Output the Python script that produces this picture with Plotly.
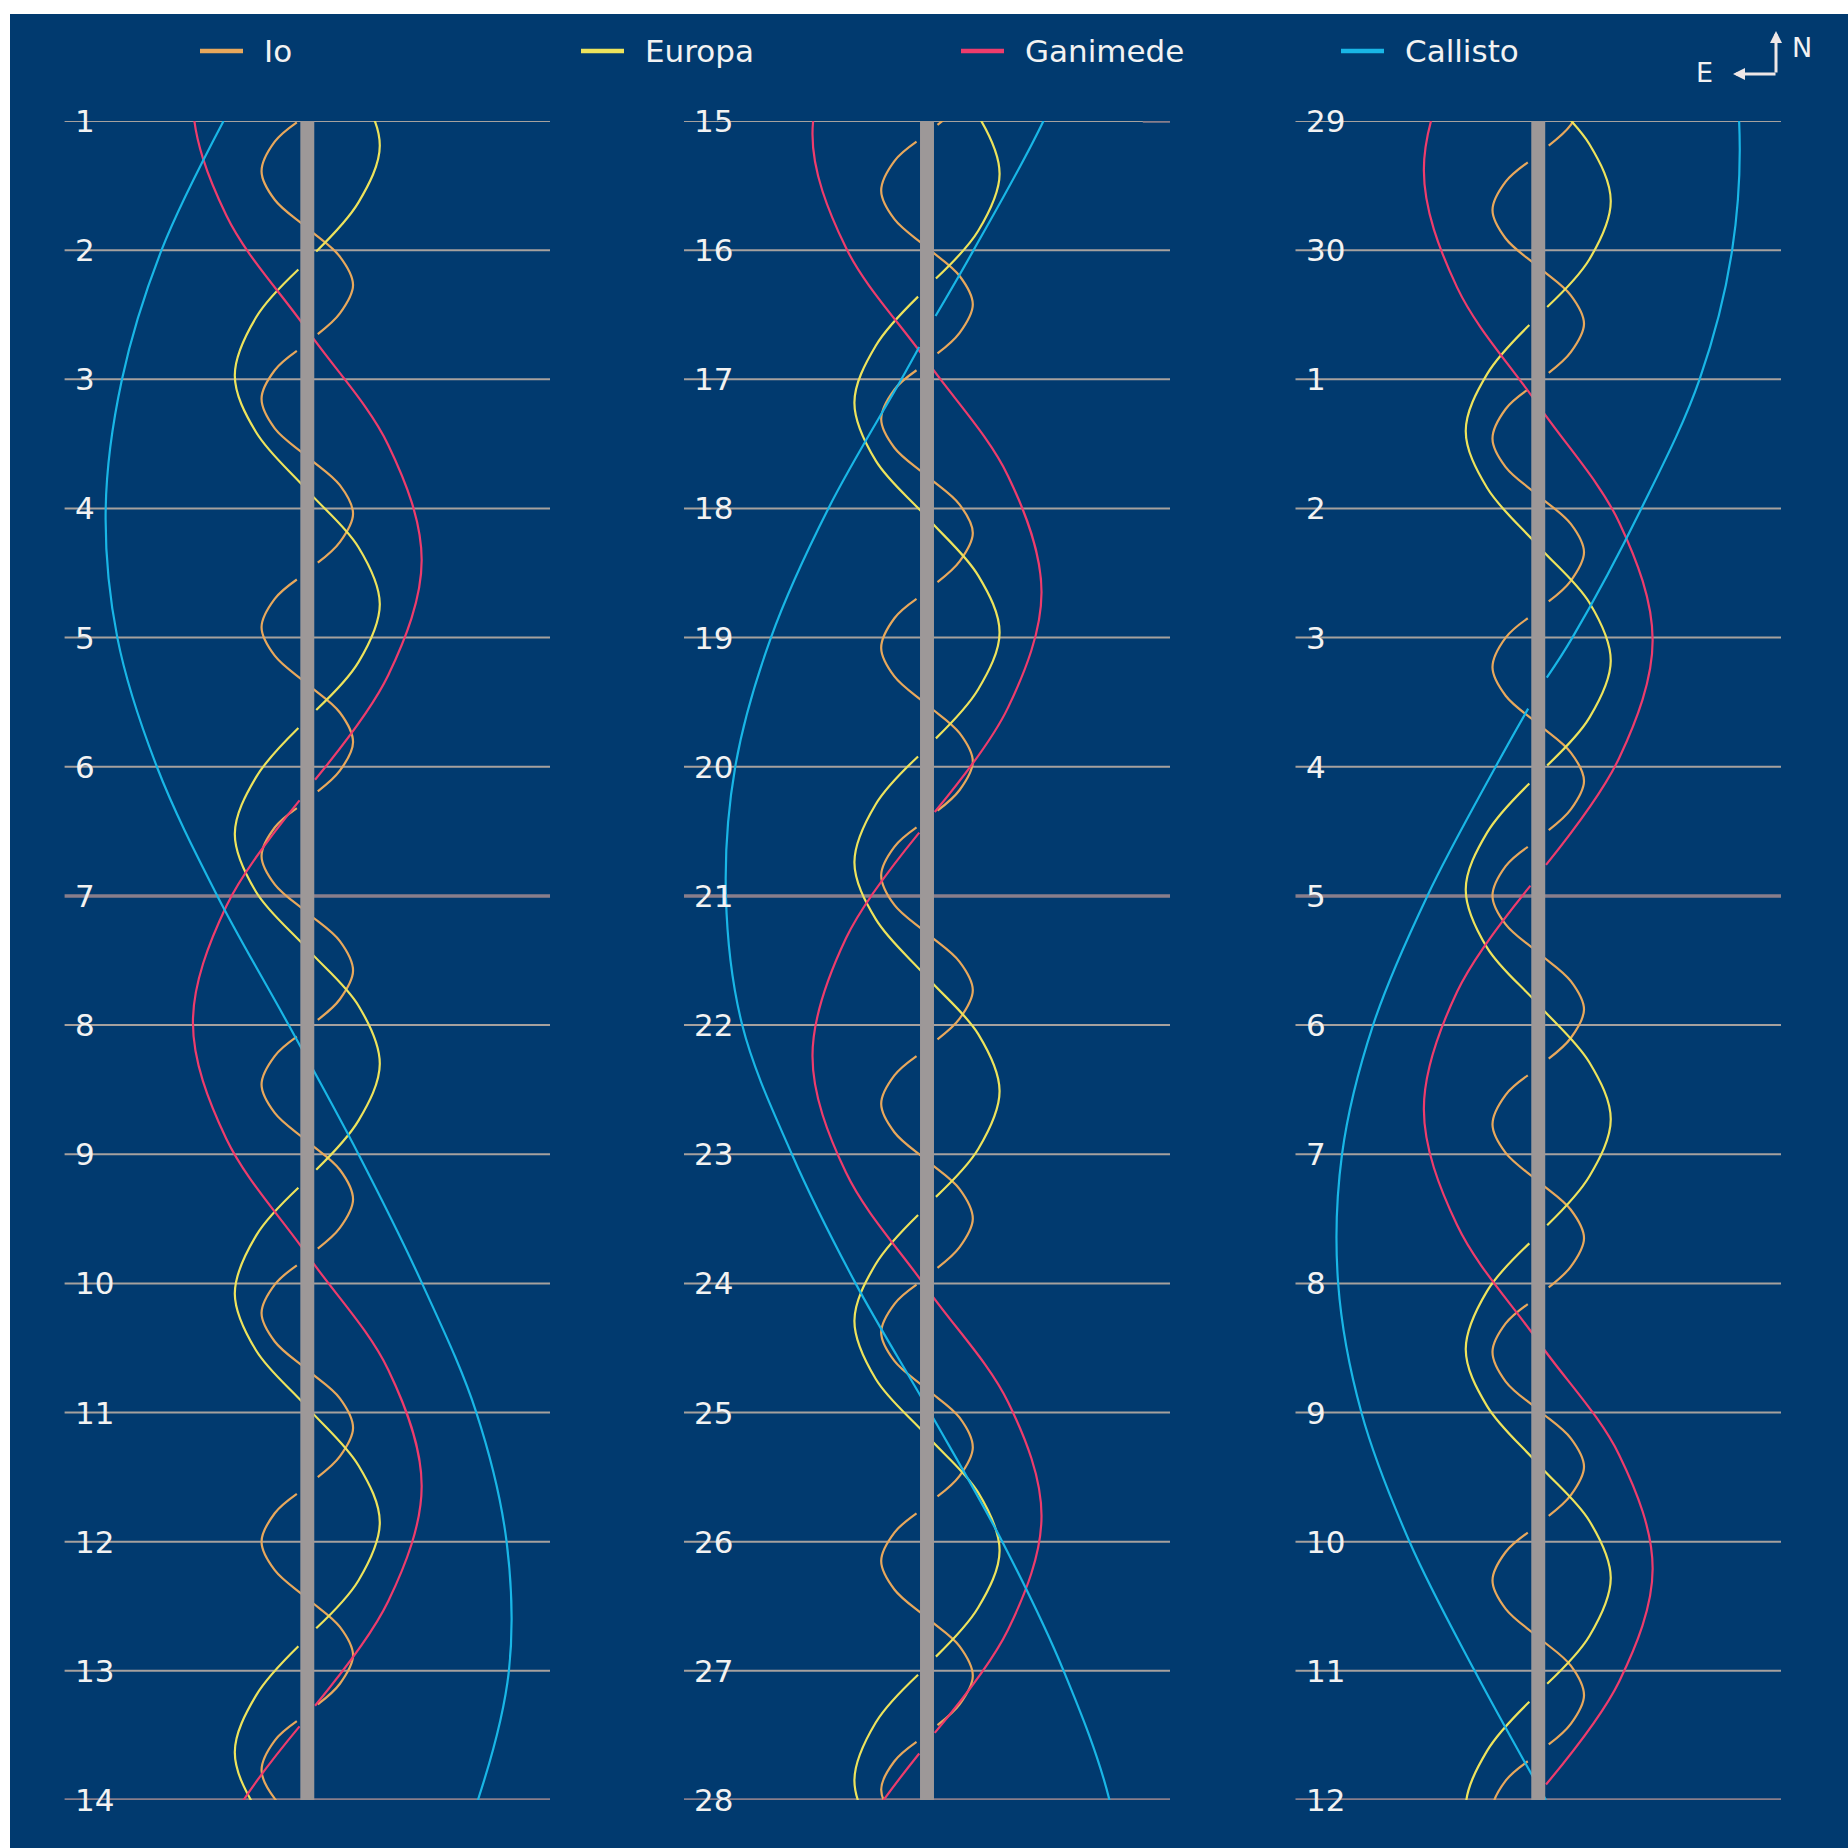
import plotly.graph_objects as go

# ---------------- data ----------------
# time: days counted from the line "1" of the first panel (panel 2 starts at 14, panel 3 at 28)
# x: apparent offset from Jupiter in Jupiter radii (+ = right / west, - = left / east)
PANEL_START = [0, 14, 28]
PANEL_LABELS = [
    ["1", "2", "3", "4", "5", "6", "7", "8", "9", "10", "11", "12", "13", "14"],
    ["15", "16", "17", "18", "19", "20", "21", "22", "23", "24", "25", "26", "27", "28"],
    ["29", "30", "1", "2", "3", "4", "5", "6", "7", "8", "9", "10", "11", "12"],
]
WEEK_ROWS = [6, 13]

IO_T = [-0.50, -0.28, -0.12, None, 0.01, 0.16, 0.39, 0.61, 0.83, 1.05,
        1.27, 1.49, 1.65, None, 1.78, 1.93, 2.15, 2.38, 2.60, 2.82,
        3.04, 3.26, 3.42, None, 3.55, 3.70, 3.92, 4.14, 4.36, 4.58,
        4.81, 5.03, 5.19, None, 5.32, 5.47, 5.69, 5.91, 6.13, 6.35,
        6.58, 6.80, 6.96, None, 7.09, 7.24, 7.46, 7.68, 7.90, 8.12,
        8.35, 8.57, 8.73, None, 8.86, 9.01, 9.23, 9.45, 9.67, 9.89,
        10.12, 10.34, 10.50, None, 10.63, 10.78, 11.00, 11.22, 11.44, 11.66,
        11.88, 12.10, 12.26, None, 12.39, 12.54, 12.77, 12.99, 13.21, 13.43,
        13.65, 13.87, 14.03, None, 14.16, 14.31, 14.54, 14.76, 14.98, 15.20,
        15.42, 15.64, 15.80, None, 15.93, 16.08, 16.31, 16.53, 16.75, 16.97,
        17.19, 17.41, 17.57, None, 17.70, 17.85, 18.08, 18.30, 18.52, 18.74,
        18.96, 19.18, 19.34, None, 19.47, 19.62, 19.84, 20.07, 20.29, 20.51,
        20.73, 20.95, 21.11, None, 21.24, 21.39, 21.61, 21.83, 22.05, 22.27,
        22.50, 22.72, 22.88, None, 23.01, 23.16, 23.38, 23.60, 23.82, 24.04,
        24.27, 24.49, 24.65, None, 24.78, 24.93, 25.15, 25.37, 25.59, 25.81,
        26.04, 26.26, 26.42, None, 26.55, 26.70, 26.92, 27.14, 27.36, 27.58,
        27.81, 28.03, 28.19, None, 28.32, 28.47, 28.69, 28.91, 29.13, 29.35,
        29.57, 29.79, 29.95, None, 30.08, 30.23, 30.46, 30.68, 30.90, 31.12,
        31.34, 31.56, 31.72, None, 31.85, 32.00, 32.23, 32.45, 32.67, 32.89,
        33.11, 33.33, 33.49, None, 33.62, 33.77, 34.00, 34.22, 34.44, 34.66,
        34.88, 35.10, 35.26, None, 35.39, 35.54, 35.77, 35.99, 36.21, 36.43,
        36.65, 36.87, 37.03, None, 37.16, 37.31, 37.53, 37.76, 37.98, 38.20,
        38.42, 38.64, 38.80, None, 38.93, 39.08, 39.30, 39.52, 39.74, 39.96,
        40.19, 40.41, 40.57, None, 40.70, 40.85, 41.07, 41.29, 41.51, 41.73,
        41.96]
IO_X = [5.9, 4.2, 1.35, None, -1.35, -4.2, -5.9, -4.2, 0.0, 4.2] * 24 + [5.9]

EUROPA_T = [-3.36, -2.92, -2.55, None, -2.41, -2.03, -1.59, -1.14, -0.70, -0.25,
            0.19, 0.63, 1.01, None, 1.15, 1.52, 1.97, 2.41, 2.86, 3.30,
            3.74, 4.19, 4.56, None, 4.70, 5.08, 5.52, 5.97, 6.41, 6.85,
            7.30, 7.74, 8.12, None, 8.26, 8.63, 9.08, 9.52, 9.96, 10.41,
            10.85, 11.30, 11.67, None, 11.81, 12.19, 12.63, 13.07, 13.52, 13.96,
            14.41, 14.85, 15.22, None, 15.36, 15.74, 16.18, 16.63, 17.07, 17.52,
            17.96, 18.40, 18.78, None, 18.92, 19.29, 19.74, 20.18, 20.63, 21.07,
            21.51, 21.96, 22.33, None, 22.47, 22.85, 23.29, 23.74, 24.18, 24.62,
            25.07, 25.51, 25.89, None, 26.03, 26.40, 26.85, 27.29, 27.73, 28.18,
            28.62, 29.07, 29.44, None, 29.58, 29.96, 30.40, 30.84, 31.29, 31.73,
            32.18, 32.62, 32.99, None, 33.13, 33.51, 33.95, 34.40, 34.84, 35.29,
            35.73, 36.17, 36.55, None, 36.69, 37.06, 37.51, 37.95, 38.40, 38.84,
            39.28, 39.73, 40.10, None, 40.24, 40.62, 41.06, 41.51, 41.95, 42.39,
            42.84]
EUROPA_X = [9.35, 6.6, 1.15, None, -1.15, -6.6, -9.35, -6.6, 0.0, 6.6] * 13 + [9.35]

GANIMEDE_T = [-1.05, -0.16,
              0.73, 1.62, 2.51, 3.40, 4.29, 5.10, None, 5.26, 6.08, 6.98,
              7.88, 8.78, 9.67, 10.57, 11.46, 12.27, None, 12.43, 13.23, 14.10,
              14.98, 15.86, 16.75, 17.65, 18.54, 19.35, None, 19.51, 20.33, 21.24,
              22.14, 23.04, 23.92, 24.80, 25.68, 26.48, None, 26.64, 27.47, 28.38,
              29.29, 30.20, 31.11, 32.02, 32.93, 33.76, None, 33.92, 34.74, 35.65,
              36.55, 37.45, 38.33, 39.21, 40.08, 40.88, None, 41.04, 41.85, 42.74]
GANIMEDE_X = [-10.45, -14.75] + [-10.45, 0.0, 10.45, 14.75, 10.45, 1.0, None, -1.0, -10.45, -14.75] * 6

CALLISTO_T = [0, 1, 2, 3, 4, 5, 6, 7, 8, 9, 10, 11, 12, 13,
              14, 15, 15.51, None, 15.75, 16, 17, 18, 19, 20, 21, 22, 23, 24, 25, 26, 27,
              28, 29, 30, 31, 32, 32.31, None, 32.55, 33, 34, 35, 36, 37, 38, 39, 40, 41]
CALLISTO_X = [-10.8, -18.8, -23.9, -26.0, -24.5, -19.4, -11.6, -2.4, 6.6, 14.8, 21.8, 25.7, 26.0, 22.0,
              15.0, 6.0, 1.1, None, -1.0, -3.3, -12.7, -20.1, -24.7, -25.9, -23.8, -17.4, -9.2, 0.4, 9.7, 17.6, 23.5,
              25.9, 25.0, 20.8, 13.3, 4.4, 1.1, None, -1.3, -5.5, -14.3, -21.3, -25.3, -25.8, -22.8, -16.6, -8.2, 1.0]

MOON_NAMES = ["Io", "Europa", "Ganimede", "Callisto"]
MOON_COLORS = ["#e8a85c", "#ede35c", "#ee3c6c", "#19b6e6"]
MOON_SERIES = [(IO_T, IO_X), (EUROPA_T, EUROPA_X), (GANIMEDE_T, GANIMEDE_X), (CALLISTO_T, CALLISTO_X)]

# ---------------- styling / layout ----------------
W = H = 1848
BG = "#013a6f"
GRID = "#a6a19e"
WEEK = "#897e8b"
JUP = "#9d9898"
TEXT = "#f2f2f2"
FONT = "DejaVu Sans"

X_HALF = 31.3
X_DOMAINS = [(64.6 / W, 550.0 / W), (684.0 / W, 1170.0 / W), (1295.5 / W, 1781.0 / W)]
Y_DOMAIN = (1 - 1800.0 / H, 1 - 121.0 / H)


def px(x):
    return x / W


def py(y):
    return 1 - y / H


fig = go.Figure()
shapes = []
annotations = []

# page background (white strip at top/left, navy field)
shapes.append(dict(type="rect", xref="paper", yref="paper", x0=px(10), x1=1, y0=0, y1=py(14),
                   fillcolor=BG, line=dict(width=0), layer="below"))

for p in range(3):
    xa = "x" if p == 0 else f"x{p + 1}"
    ya = "y" if p == 0 else f"y{p + 1}"
    s = PANEL_START[p]
    for name, color, (t, x) in zip(MOON_NAMES, MOON_COLORS, MOON_SERIES):
        fig.add_trace(go.Scatter(x=x, y=t, mode="lines", name=name, showlegend=False,
                                 line=dict(color=color, width=2.2, shape="spline", smoothing=1,
                                           simplify=False),
                                 connectgaps=False, hoverinfo="skip", xaxis=xa, yaxis=ya))
    # day lines + labels
    for i, lab in enumerate(PANEL_LABELS[p]):
        week = i in WEEK_ROWS
        shapes.append(dict(type="line", xref=f"{xa} domain", yref=ya, x0=0, x1=1, y0=s + i, y1=s + i,
                           line=dict(color=WEEK if week else GRID, width=3.5 if week else 2),
                           layer="below"))
        annotations.append(dict(xref=f"{xa} domain", yref=ya, x=0, y=s + i, xshift=8,
                                text=lab, showarrow=False, xanchor="left", yanchor="middle",
                                font=dict(family=FONT, size=31, color=TEXT)))
    # Jupiter
    shapes.append(dict(type="rect", xref=xa, yref=ya, x0=-0.9, x1=0.9, y0=s, y1=s + 13,
                       fillcolor=JUP, line=dict(width=0), layer="above"))
    layout_x = dict(domain=list(X_DOMAINS[p]), range=[-X_HALF, X_HALF], visible=False,
                    fixedrange=True, anchor=ya)
    layout_y = dict(domain=list(Y_DOMAIN), range=[s + 13, s], visible=False, fixedrange=True, anchor=xa)
    fig.update_layout(**{("xaxis" if p == 0 else f"xaxis{p + 1}"): layout_x,
                         ("yaxis" if p == 0 else f"yaxis{p + 1}"): layout_y})

# small mark at right end of the "15" line
shapes.append(dict(type="line", xref="x2 domain", yref="y2", x0=0.944, x1=1, y0=14, y1=14,
                   line=dict(color=WEEK, width=3.5), layer="below"))

# legend (drawn)
LEG_X = [200, 581, 961, 1341]
LEG_Y = 51
for name, color, lx in zip(MOON_NAMES, MOON_COLORS, LEG_X):
    shapes.append(dict(type="line", xref="paper", yref="paper", x0=px(lx), x1=px(lx + 43),
                       y0=py(LEG_Y), y1=py(LEG_Y), line=dict(color=color, width=4.5)))
    annotations.append(dict(xref="paper", yref="paper", x=px(lx + 62), y=py(LEG_Y), text=name,
                            showarrow=False, xanchor="left", yanchor="middle",
                            font=dict(family=FONT, size=31, color=TEXT)))

# compass
ARW = "#efe7e7"
annotations.append(dict(xref="paper", yref="paper", x=px(1776), y=py(31), ax=0, ay=43,
                        axref="pixel", ayref="pixel", text="", showarrow=True,
                        arrowhead=2, arrowsize=0.8, arrowwidth=3, arrowcolor=ARW))
annotations.append(dict(xref="paper", yref="paper", x=px(1733), y=py(74), ax=44, ay=0,
                        axref="pixel", ayref="pixel", text="", showarrow=True,
                        arrowhead=2, arrowsize=0.8, arrowwidth=3, arrowcolor=ARW))
annotations.append(dict(xref="paper", yref="paper", x=px(1802), y=py(47), text="N", showarrow=False,
                        xanchor="center", yanchor="middle", font=dict(family=FONT, size=27, color=TEXT)))
annotations.append(dict(xref="paper", yref="paper", x=px(1704), y=py(73), text="E", showarrow=False,
                        xanchor="center", yanchor="middle", font=dict(family=FONT, size=27, color=TEXT)))

fig.update_layout(width=W, height=H, margin=dict(l=0, r=0, t=0, b=0, pad=0),
                  paper_bgcolor="white", plot_bgcolor="rgba(0,0,0,0)",
                  shapes=shapes, annotations=annotations, showlegend=False,
                  font=dict(family=FONT, color=TEXT))

fig.write_html("out.html", include_plotlyjs=True, full_html=True,
               config={"displayModeBar": False},
               post_script="document.body.style.margin='0';document.body.style.overflow='hidden';")
